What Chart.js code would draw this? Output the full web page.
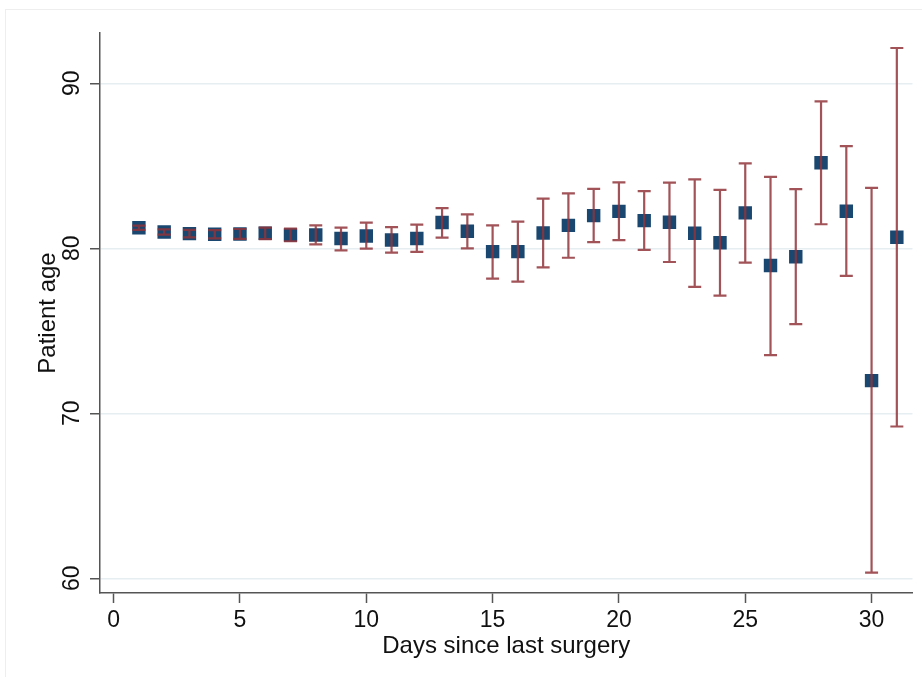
<!DOCTYPE html>
<html>
<head>
<meta charset="utf-8">
<script src="https://cdn.jsdelivr.net/npm/chart.js@4/dist/chart.umd.min.js"></script>
<style>
  html, body { margin: 0; padding: 0; background: #ffffff; }
  #wrap { position: relative; width: 922px; height: 677px; }
</style>
</head>
<body>
<div id="wrap"><canvas id="c"></canvas></div>
<script>
// ---- data ----
const days = [1,2,3,4,5,6,7,8,9,10,11,12,13,14,15,16,17,18,19,20,21,22,23,24,25,26,27,28,29,30,31];
const meanAge = [81.25,80.99,80.89,80.85,80.87,80.91,80.81,80.81,80.59,80.75,80.50,80.59,81.56,81.03,79.80,79.80,80.93,81.39,81.98,82.24,81.68,81.58,80.91,80.34,82.15,78.96,79.49,85.19,82.25,71.98,80.67];
const lowerCI = [81.12,80.83,80.66,80.60,80.57,80.56,80.43,80.24,79.88,79.98,79.74,79.78,80.65,80.00,78.16,77.98,78.85,79.43,80.38,80.50,79.90,79.17,77.66,77.13,79.13,73.53,75.41,81.46,78.33,60.35,69.20];
const upperCI = [81.38,81.15,81.12,81.10,81.17,81.26,81.19,81.39,81.25,81.56,81.29,81.44,82.44,82.06,81.39,81.62,83.01,83.33,83.60,84.00,83.47,83.98,84.18,83.54,85.15,84.33,83.59,88.90,86.19,83.66,92.14];
const xTicks = [0,5,10,15,20,25,30];
const yTicks = [60,70,80,90];
const xTitle = 'Days since last surgery';
const yTitle = 'Patient age';

const points = days.map((d, i) => ({x: d, y: meanAge[i]}));

const FONT = "'Liberation Sans', Arial, Helvetica, sans-serif";
const AXIS_COLOR = '#555555';
const GRID_COLOR = '#e6eef1';
const BAR_COLOR = 'rgba(144,53,59,0.85)';
const MARKER_COLOR = '#1a476f';

const frame = {
  id: 'frame',
  beforeDraw(chart) {
    const ctx = chart.ctx;
    ctx.save();
    ctx.fillStyle = '#ffffff';
    ctx.fillRect(0, 0, chart.width, chart.height);
    ctx.strokeStyle = '#eeeeee';
    ctx.lineWidth = 1;
    ctx.strokeRect(5.5, 9.5, chart.width, chart.height);
    ctx.restore();
  }
};

const errorBars = {
  id: 'errorBars',
  afterDatasetsDraw(chart) {
    const ctx = chart.ctx;
    const xs = chart.scales.x, ys = chart.scales.y;
    ctx.save();
    ctx.strokeStyle = BAR_COLOR;
    ctx.lineWidth = 2.2;
    const cap = 6.5;
    days.forEach((d, i) => {
      const px = xs.getPixelForValue(d);
      const yl = ys.getPixelForValue(lowerCI[i]);
      const yu = ys.getPixelForValue(upperCI[i]);
      ctx.beginPath();
      ctx.moveTo(px, yl); ctx.lineTo(px, yu);
      ctx.moveTo(px - cap, yl); ctx.lineTo(px + cap, yl);
      ctx.moveTo(px - cap, yu); ctx.lineTo(px + cap, yu);
      ctx.stroke();
    });
    ctx.restore();
  }
};

new Chart(document.getElementById('c'), {
  type: 'scatter',
  data: {
    datasets: [{
      data: points,
      pointStyle: 'rect',
      pointRadius: 9.5,
      pointHoverRadius: 9.5,
      backgroundColor: MARKER_COLOR,
      borderColor: MARKER_COLOR,
      borderWidth: 0
    }]
  },
  options: {
    responsive: true,
    maintainAspectRatio: false,
    animation: false,
    events: [],
    layout: { padding: { left: 0, right: 7, top: 33, bottom: 0 } },
    plugins: { legend: { display: false }, tooltip: { enabled: false } },
    scales: {
      x: {
        type: 'linear',
        min: -0.54,
        max: 31.62,
        afterBuildTicks: s => { s.ticks = xTicks.map(v => ({value: v})); },
        afterFit: s => { s.height = 84; },
        grid: { drawOnChartArea: false, tickLength: 10, tickWidth: 1.5, tickColor: AXIS_COLOR },
        border: { color: AXIS_COLOR, width: 1.5 },
        ticks: { font: { family: FONT, size: 23 }, color: '#111111', padding: 4, maxRotation: 0, minRotation: 0 },
        title: { display: true, text: xTitle, font: { family: FONT, size: 24 }, color: '#111111', padding: { top: 0, bottom: 16 } }
      },
      y: {
        type: 'linear',
        min: 59.11,
        max: 93.05,
        afterBuildTicks: s => { s.ticks = yTicks.map(v => ({value: v})); },
        afterFit: s => { s.width = 100; },
        grid: { color: GRID_COLOR, lineWidth: 1.5, tickLength: 10, tickWidth: 1.5, tickColor: AXIS_COLOR },
        border: { color: AXIS_COLOR, width: 1.5 },
        ticks: { font: { family: FONT, size: 23 }, color: '#111111', padding: 5, minRotation: 90, maxRotation: 90, crossAlign: 'center' },
        title: { display: true, text: yTitle, font: { family: FONT, size: 24 }, color: '#111111', padding: { top: 34, bottom: 0 } }
      }
    }
  },
  plugins: [frame, errorBars]
});
</script>
</body>
</html>
